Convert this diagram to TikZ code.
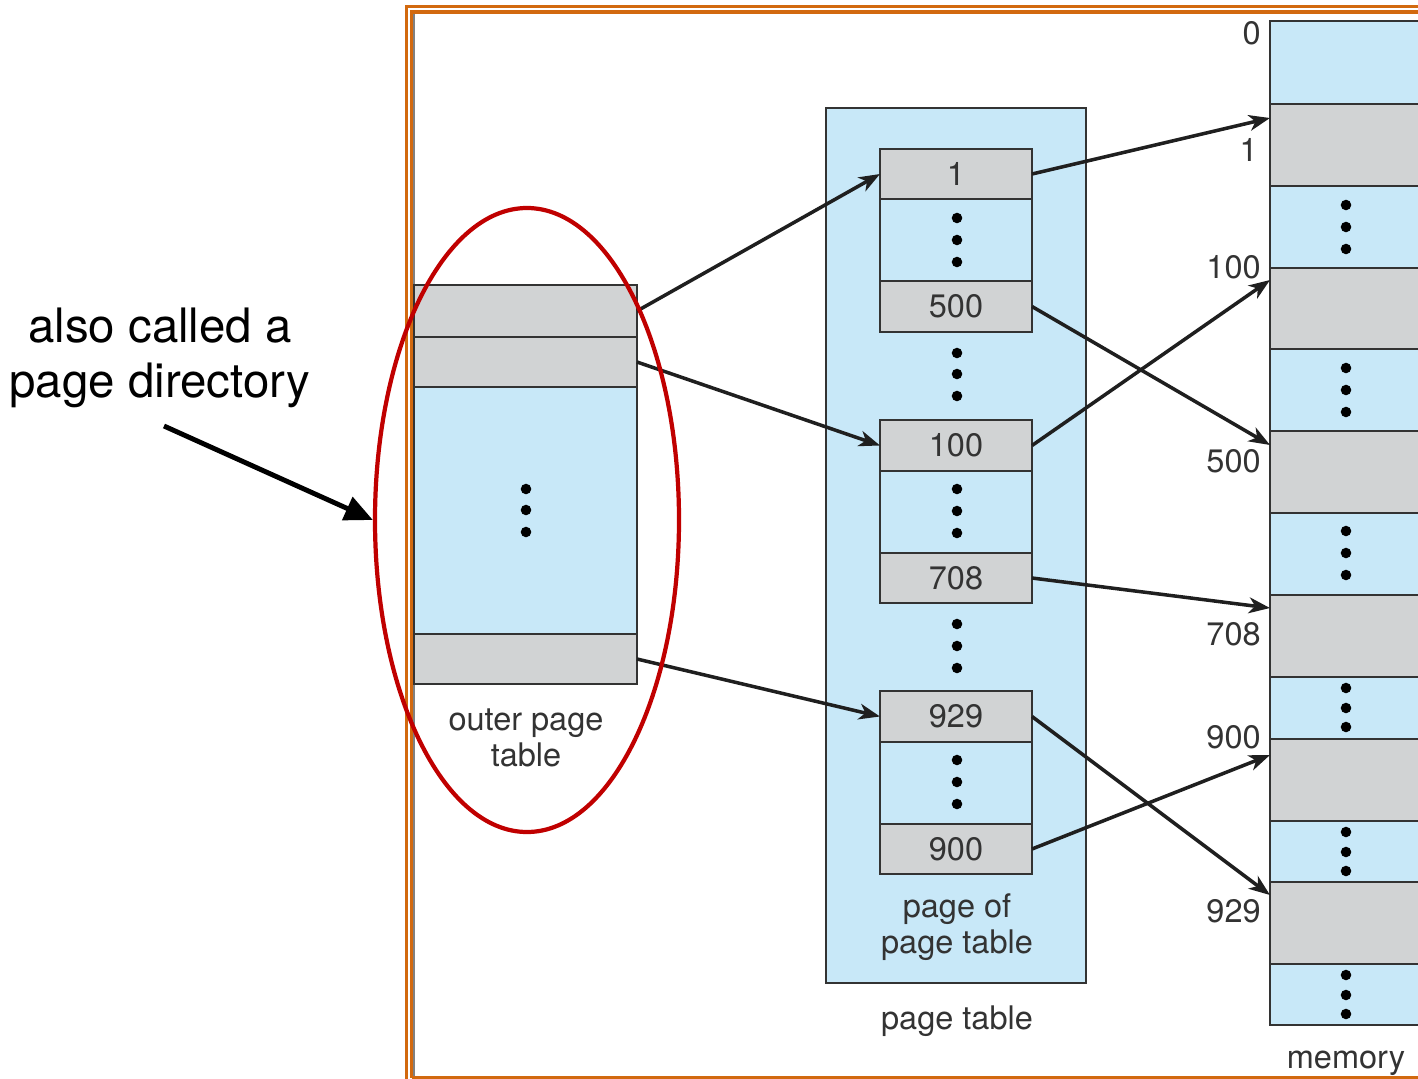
\documentclass[tikz,border=0pt]{standalone}
\usepackage{fontspec}
\setmainfont{TeX Gyre Heros}
\usetikzlibrary{arrows.meta,shapes.geometric}
\definecolor{cellblue}{HTML}{C8E8F8}
\definecolor{cellgray}{HTML}{D1D3D4}
\definecolor{frameorange}{HTML}{D2690F}
\definecolor{ringred}{HTML}{C00000}
\definecolor{inkgray}{HTML}{333333}

% one table cell: name, left, top, width, height, fill, text
\newcommand\cellbox[7]{%
  \node[cell, fill=#6, minimum width=#4*0.02cm, minimum height=#5*0.02cm] (#1) at (#2,#3) {};
  \node[lbl] at (#1.center) {#7};}
% three vertical dots: x, then three y values
\newcommand\dotrow[4]{%
  \foreach \yy in {#2,#3,#4} \fill[black] (#1,\yy) circle[radius=3pt];}

\begin{document}
\begin{tikzpicture}[x=0.02cm, y=-0.02cm,
  cell/.style={draw=inkgray, line width=0.8pt, inner sep=0pt, outer sep=0pt, anchor=north west},
  lbl/.style={text=inkgray, font=\fontsize{18.5}{20.5}\selectfont, inner sep=0pt},
  caption/.style={text=inkgray, font=\fontsize{18.5}{20.5}\selectfont, align=center, inner sep=0pt},
  link/.style={draw=black!88, line width=2pt, -{Stealth[length=12pt, width=9pt, inset=3.5pt]}},
  note/.style={text=black, font=\fontsize{27}{31.5}\selectfont, align=center, inner sep=0pt}]

\useasboundingbox (0,0) rectangle (1418,1079);
\clip (0,0) rectangle (1418,1079);

% slide frame
\draw[frameorange, line width=2pt] (406.5,1100) -- (406.5,6.5) -- (1450,6.5);
\draw[frameorange, line width=2pt] (411.5,1077.5) -- (411.5,12) -- (1450,12);
\draw[frameorange, line width=2pt] (411.5,1077.5) -- (1450,1077.5);
\draw[gray, line width=0.6pt] (414,14) -- (414,1076);

% outer page table
\cellbox{o1}{414}{285}{223}{52}{cellgray}{}
\cellbox{o2}{414}{337}{223}{50}{cellgray}{}
\cellbox{o3}{414}{387}{223}{247}{cellblue}{}
\cellbox{o4}{414}{634}{223}{50}{cellgray}{}
\dotrow{526}{489}{510}{532}
\node[caption] (ocap) at (526,738) {outer page\\table};

% page table
\node[cell, fill=cellblue, minimum width=260*0.02cm, minimum height=875*0.02cm] (pt) at (826,108) {};
\cellbox{p1}{880}{149}{152}{50}{cellgray}{1}
\cellbox{p1d}{880}{199}{152}{82}{cellblue}{}
\cellbox{p500}{880}{281}{152}{51}{cellgray}{500}
\cellbox{p100}{880}{420}{152}{51}{cellgray}{100}
\cellbox{p100d}{880}{471}{152}{82}{cellblue}{}
\cellbox{p708}{880}{553}{152}{50}{cellgray}{708}
\cellbox{p929}{880}{691}{152}{51}{cellgray}{929}
\cellbox{p929d}{880}{742}{152}{82}{cellblue}{}
\cellbox{p900}{880}{824}{152}{50}{cellgray}{900}
\dotrow{957}{218}{240}{262}
\dotrow{957}{353}{374}{396}
\dotrow{957}{489}{511}{533}
\dotrow{957}{624}{646}{668}
\dotrow{957}{760}{782}{804}
\node[caption] (pcap) at (957,927) {page of\\page table};
\node[caption] (ptcap) at (957,1021) {page table};

% memory
\cellbox{m0}{1270}{21}{200}{83}{cellblue}{}
\cellbox{m1}{1270}{104}{200}{82}{cellgray}{}
\cellbox{m2}{1270}{186}{200}{82}{cellblue}{}
\cellbox{m3}{1270}{268}{200}{81}{cellgray}{}
\cellbox{m4}{1270}{349}{200}{82}{cellblue}{}
\cellbox{m5}{1270}{431}{200}{82}{cellgray}{}
\cellbox{m6}{1270}{513}{200}{82}{cellblue}{}
\cellbox{m7}{1270}{595}{200}{82}{cellgray}{}
\cellbox{m8}{1270}{677}{200}{62}{cellblue}{}
\cellbox{m9}{1270}{739}{200}{82}{cellgray}{}
\cellbox{m10}{1270}{821}{200}{61}{cellblue}{}
\cellbox{m11}{1270}{882}{200}{82}{cellgray}{}
\cellbox{m12}{1270}{964}{200}{61}{cellblue}{}
\dotrow{1346}{205}{227}{249}
\dotrow{1346}{368}{390}{412}
\dotrow{1346}{531}{553}{575}
\dotrow{1346}{688}{708}{727}
\dotrow{1346}{832}{852}{871}
\dotrow{1346}{975}{995}{1014}
\node[caption] (mcap) at (1346,1063) {memory};

% frame numbers
\node[lbl, anchor=east] (n0) at (1261,33) {0};
\node[lbl, anchor=east] (n1) at (1258,150) {1};
\node[lbl, anchor=east] (n100) at (1261,267) {100};
\node[lbl, anchor=east] (n500) at (1261,461) {500};
\node[lbl, anchor=east] (n708) at (1261,634) {708};
\node[lbl, anchor=east] (n900) at (1261,737) {900};
\node[lbl, anchor=east] (n929) at (1261,911) {929};

% where the links enter memory frames
\coordinate (f1) at (1270,118);
\coordinate (f100) at (1270,280);
\coordinate (f500) at (1270,445);
\coordinate (f708) at (1270,608);
\coordinate (f900) at (1270,755);
\coordinate (f929) at (1270,895);

% outer table to pages of the page table
\draw[link] (o1.east) -- (p1.west);
\draw[link] (o2.east) -- (p100.west);
\draw[link] (o4.east) -- (p929.west);

% page table entries to memory frames
\draw[link] (p1.east) -- (f1);
\draw[link] (p500.east) -- (f500);
\draw[link] (p100.east) -- (f100);
\draw[link] (p708.east) -- (f708);
\draw[link] (p929.east) -- (f929);
\draw[link] (p900.east) -- (f900);

% highlight of the outer table
\node[ellipse, draw=ringred, line width=2.4pt, inner sep=0pt,
      minimum width=304*0.02cm, minimum height=624*0.02cm] (ring) at (527,520) {};

% side note
\node[note] (note) at (160,358) {also called a\\page directory};
\coordinate (notetail) at (164,426);
\draw[black, line width=2.8pt, -{Triangle[length=16pt, width=14pt]}] (notetail) -- (ring.west);
\end{tikzpicture}
\end{document}
